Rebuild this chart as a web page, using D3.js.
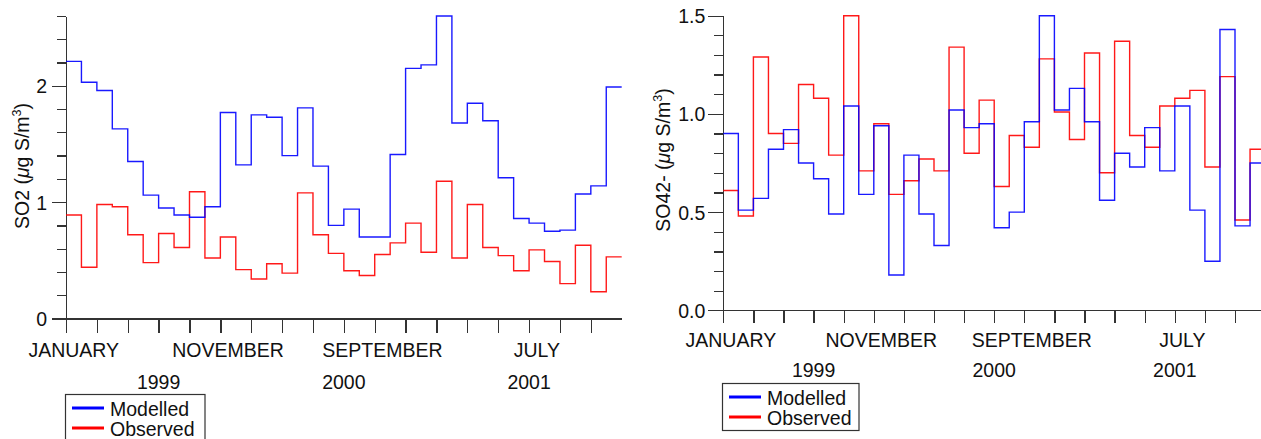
<!DOCTYPE html>
<html>
<head>
<meta charset="utf-8">
<script src="https://cdn.jsdelivr.net/npm/d3@7"></script>
<style>
  html, body { margin: 0; padding: 0; background: #fff; }
  svg { display: block; }
  text { font-family: "Liberation Sans", Arial, sans-serif; fill: #111; }
  .axis path, .axis line { stroke: #333; stroke-width: 1.3; shape-rendering: crispEdges; }
  .axis text { font-size: 19.5px; fill: #111; }
</style>
</head>
<body>
<svg id="chart" width="1261" height="439"></svg>
<script>
// Monthly means, January 1999 – December 2001
const so2Modelled = [2.21,2.03,1.96,1.63,1.35,1.06,0.95,0.89,0.87,0.96,1.77,1.32,
                     1.75,1.73,1.40,1.81,1.31,0.80,0.94,0.70,0.70,1.41,2.15,2.18,
                     2.60,1.68,1.85,1.70,1.21,0.86,0.82,0.75,0.76,1.07,1.14,1.99];
const so2Observed = [0.89,0.44,0.98,0.96,0.72,0.48,0.73,0.61,1.09,0.52,0.70,0.42,
                     0.34,0.47,0.39,1.08,0.72,0.56,0.41,0.37,0.55,0.65,0.82,0.57,
                     1.18,0.52,0.98,0.61,0.54,0.41,0.59,0.49,0.30,0.63,0.23,0.53];
const so4Modelled = [0.90,0.51,0.57,0.82,0.92,0.75,0.67,0.49,1.04,0.59,0.94,0.18,
                     0.79,0.49,0.33,1.02,0.93,0.95,0.42,0.50,0.96,1.50,1.02,1.13,
                     0.96,0.56,0.80,0.73,0.93,0.71,1.04,0.51,0.25,1.43,0.43,0.75];
const so4Observed = [0.61,0.48,1.29,0.90,0.85,1.15,1.08,0.79,1.50,0.71,0.95,0.59,
                     0.66,0.77,0.71,1.34,0.80,1.07,0.63,0.89,0.83,1.28,1.01,0.87,
                     1.31,0.70,1.37,0.89,0.83,1.04,1.08,1.12,0.73,1.19,0.46,0.82];

// Month labels (month index from January 1999) and year labels (mid-year index)
const monthLabels = ["JANUARY", "NOVEMBER", "SEPTEMBER", "JULY"];
const monthLabelIndex = [0, 10, 20, 30];
const yearLabels = ["1999", "2000", "2001"];
const yearLabelIndex = [6, 18, 30];

const seriesNames = ["Modelled", "Observed"];
const seriesColors = ["#0000ff", "#ff0000"];

const svg = d3.select("#chart");
const nMonths = so2Modelled.length;
const FS = 19.5;

function drawPanel(cfg) {
  const g = svg.append("g");
  const x = d3.scaleLinear().domain([0, nMonths]).range([cfg.x0, cfg.x0 + cfg.monthW * nMonths]);
  const y = d3.scaleLinear().domain([0, cfg.yMax]).range([cfg.yBottom, cfg.yTop]);

  // x axis: tick every second month
  g.append("g").attr("class", "axis")
    .attr("transform", `translate(0,${cfg.yBottom})`)
    .call(d3.axisBottom(x).tickValues(d3.range(0, nMonths - 1, 2))
      .tickSize(cfg.xTick).tickSizeOuter(0).tickFormat(""));

  // y axis: minor ticks
  const minor = d3.range(0, Math.round(cfg.yMax / cfg.minorStep) + 1).map(i => +(i * cfg.minorStep).toFixed(3));
  g.append("g").attr("class", "axis")
    .attr("transform", `translate(${cfg.x0},0)`)
    .call(d3.axisLeft(y).tickValues(minor).tickSize(cfg.minorTick).tickSizeOuter(0).tickFormat(""));
  // y axis: major ticks with labels
  g.append("g").attr("class", "axis")
    .attr("transform", `translate(${cfg.x0},0)`)
    .call(d3.axisLeft(y).tickValues(cfg.majors).tickSize(cfg.majorTick).tickSizeOuter(0)
      .tickPadding(cfg.tickPad).tickFormat(d3.format(cfg.fmt)))
    .call(a => a.select(".domain").remove())
    .call(a => a.selectAll("text").attr("dy", "0.36em"));

  // step lines, observed first then modelled on top
  const line = d3.line().curve(d3.curveStepAfter).x(d => x(d[0])).y(d => y(d[1]));
  const steps = vals => vals.map((v, i) => [i, v]).concat([[vals.length, vals[vals.length - 1]]]);
  [[cfg.observed, seriesColors[1]], [cfg.modelled, seriesColors[0]]].forEach(([vals, col]) => {
    g.append("path").attr("d", line(steps(vals)))
      .attr("fill", "none").attr("stroke", col).attr("stroke-width", 1.4)
      .attr("stroke-opacity", 0.9);
  });

  // month and year labels
  g.selectAll(".mlab").data(monthLabels).join("text")
    .attr("x", (d, i) => x(monthLabelIndex[i] + 0.5)).attr("y", cfg.monthBase)
    .attr("text-anchor", "middle").attr("font-size", FS).text(d => d);
  g.selectAll(".ylab").data(yearLabels).join("text")
    .attr("x", (d, i) => x(yearLabelIndex[i])).attr("y", cfg.yearBase)
    .attr("text-anchor", "middle").attr("font-size", FS).text(d => d);

  // y axis title
  const t = g.append("text")
    .attr("transform", `translate(${cfg.titleX},${cfg.titleY}) rotate(-90)`)
    .attr("text-anchor", "middle").attr("font-size", FS);
  t.append("tspan").text(cfg.species + " (");
  t.append("tspan").attr("font-style", "italic").text("\u03bc");
  t.append("tspan").text("g S/m");
  t.append("tspan").attr("font-size", 12.5).attr("dy", -8).text("3");
  t.append("tspan").attr("dy", 8).text(")");

  // legend
  const lg = g.append("g");
  lg.append("rect").attr("x", cfg.legX).attr("y", cfg.legY).attr("width", cfg.legW).attr("height", 47)
    .attr("fill", "#fff").attr("stroke", "#333").attr("stroke-width", 1.2);
  seriesNames.forEach((name, i) => {
    const cy = cfg.legY + 13.5 + i * 20;
    lg.append("line").attr("x1", cfg.legX + 6.5).attr("x2", cfg.legX + 38.5)
      .attr("y1", cy).attr("y2", cy).attr("stroke", seriesColors[i]).attr("stroke-width", 3);
    lg.append("text").attr("x", cfg.legX + 44.5).attr("y", cy + 7.5)
      .attr("font-size", FS).text(name);
  });
}

drawPanel({
  modelled: so2Modelled, observed: so2Observed, species: "SO2",
  x0: 66, monthW: 15.436, yBottom: 318.5, yTop: 16, yMax: 2.6,
  minorStep: 0.2, majors: [0, 1, 2], fmt: "d",
  xTick: 14, minorTick: 9, majorTick: 14, tickPad: 5,
  monthBase: 356.5, yearBase: 388.5, titleX: 28.5, titleY: 166,
  legX: 65.5, legY: 394.5, legW: 139.5
});

drawPanel({
  modelled: so4Modelled, observed: so4Observed, species: "SO42-",
  x0: 723.3, monthW: 15.05, yBottom: 310.3, yTop: 15.7, yMax: 1.5,
  minorStep: 0.1, majors: [0, 0.5, 1, 1.5], fmt: ".1f",
  xTick: 13, minorTick: 9, majorTick: 15, tickPad: 3,
  monthBase: 346.5, yearBase: 376.5, titleX: 669.5, titleY: 160,
  legX: 722.5, legY: 383.5, legW: 136.5
});
</script>
</body>
</html>
